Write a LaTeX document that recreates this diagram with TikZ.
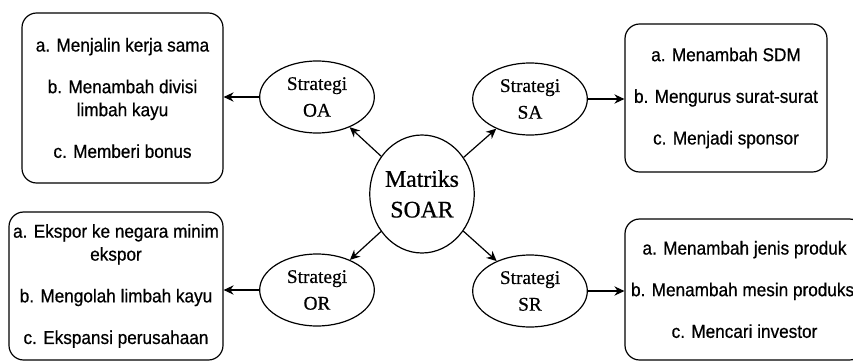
\documentclass[tikz,border=0pt]{standalone}
\usepackage{fontspec}
\setmainfont{Liberation Serif}[FakeBold=0.6]
\newfontfamily\listfont{Liberation Sans}[FakeStretch=0.92,FakeBold=0.6]
\usetikzlibrary{shapes.geometric,arrows.meta}

\tikzset{
	strat/.style={draw, ellipse, line width=0.9pt, inner sep=0pt, minimum width=86pt, minimum height=54pt, align=center, font=\fontsize{14.5}{20}\selectfont},
	listbox/.style={draw, rounded corners=11pt, line width=0.9pt, inner sep=0pt, align=center, font=\listfont\fontsize{14}{17.25}\selectfont},
	link/.style={-{Stealth[length=7.5pt,width=7pt]}, line width=0.9pt}
}

\begin{document}
\begin{tikzpicture}[x=0.75pt,y=-0.75pt]
	\useasboundingbox (0,0) rectangle (853,361);
	\clip (0,0) rectangle (853,361);

	\node[draw, ellipse, line width=0.9pt, inner sep=0pt, minimum width=74pt, minimum height=88.5pt, align=center, font=\fontsize{17.8}{23}\selectfont] at (422,194) (soar) {Matriks\\SOAR}; %center

	\node[strat] at (317,97) (oa) {Strategi\\OA};
	\node[strat] at (530,99) (sa) {Strategi\\SA};
	\node[strat] at (317,290) (or) {Strategi\\OR};
	\node[strat] at (530,291) (sr) {Strategi\\SR};

	\node[listbox, minimum width=150.75pt, minimum height=127.5pt] at (122.5,98) (oalist) {a. Menjalin kerja sama\\[14pt] b. Menambah divisi\\ limbah kayu\\[14pt] c. Memberi bonus}; %OA
	\node[listbox, minimum width=151.5pt, minimum height=111pt] at (726,98) (salist) {a. Menambah SDM\\[14pt] b. Mengurus surat-surat\\[14pt] c. Menjadi sponsor}; %SA
	\node[listbox, minimum width=160.5pt, minimum height=111pt] at (116,286) (orlist) {a. Ekspor ke negara minim\\ ekspor\\[14pt] b. Mengolah limbah kayu\\[14pt] c. Ekspansi perusahaan}; %OR
	\node[listbox, minimum width=179.25pt, minimum height=105.75pt] at (744.5,289.5) (srlist) {a. Menambah jenis produk\\[14pt] b. Menambah mesin produksi\\[14pt] c. Mencari investor}; %SR

	\draw[link] (soar) -- (oa);
	\draw[link] (soar) -- (sa);
	\draw[link] (soar) -- (or);
	\draw[link] (soar) -- (sr);

	\draw[link] (oa.west) -- (oa.west -| oalist.east);
	\draw[link] (sa.east) -- (sa.east -| salist.west);
	\draw[link] (or.west) -- (or.west -| orlist.east);
	\draw[link] (sr.east) -- (sr.east -| srlist.west);
\end{tikzpicture}
\end{document}
